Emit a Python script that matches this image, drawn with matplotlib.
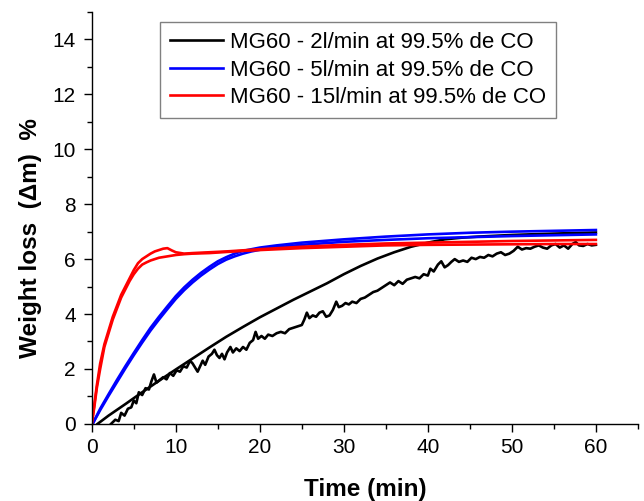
import matplotlib
matplotlib.use("Agg")
import matplotlib.pyplot as plt
from matplotlib.ticker import MultipleLocator

plt.rcParams["font.family"] = ["Liberation Sans", "DejaVu Sans"]

# ── DATA ──
black_smooth_t = [0.7, 2, 4, 6, 8, 10, 12, 14, 16, 18, 20, 22, 24, 26, 28, 30,
                  32, 34, 36, 38, 40, 42, 44, 46, 48, 50, 55, 60]
black_smooth_v = [0.0, 0.3, 0.72, 1.15, 1.57, 1.98, 2.38, 2.78, 3.17, 3.53, 3.88,
                  4.2, 4.52, 4.82, 5.12, 5.45, 5.75, 6.02, 6.25, 6.45, 6.6, 6.72,
                  6.78, 6.82, 6.85, 6.88, 6.93, 6.97]

black_noisy_t = [2.3, 2.8, 3.2, 3.5, 3.9, 4.3, 4.7, 5.0, 5.3, 5.6, 6.0, 6.4, 6.8,
                 7.1, 7.4, 7.7, 8.1, 8.5, 8.9, 9.3, 9.7, 10.1, 10.5, 10.9, 11.3,
                 11.7, 12.0, 12.3, 12.6, 12.9, 13.2, 13.5, 13.9, 14.3, 14.6, 14.9,
                 15.2, 15.5, 15.8, 16.1, 16.5, 16.8, 17.2, 17.6, 18.0, 18.4, 18.8,
                 19.2, 19.5, 19.8, 20.2, 20.6, 21.0, 21.5, 22.0, 22.5, 23.0, 23.5,
                 24.0, 24.5, 25.0, 25.3, 25.6, 25.9, 26.3, 26.7, 27.1, 27.5, 27.9,
                 28.3, 28.7, 29.1, 29.4, 29.8, 30.2, 30.6, 31.0, 31.5, 32.0, 32.5,
                 33.0, 33.5, 34.0, 34.5, 35.0, 35.5, 36.0, 36.5, 37.0, 37.5, 38.0,
                 38.5, 39.0, 39.5, 40.0, 40.3, 40.7, 41.2, 41.6, 42.0, 42.4, 42.8,
                 43.2, 43.7, 44.2, 44.7, 45.2, 45.7, 46.2, 46.7, 47.2, 47.7, 48.2,
                 48.7, 49.2, 49.7, 50.2, 50.7, 51.2, 51.7, 52.2, 52.7, 53.2, 53.7,
                 54.2, 54.7, 55.2, 55.7, 56.2, 56.7, 57.2, 57.6, 58.0, 58.5, 59.0,
                 59.5, 60.0]
black_noisy_v = [0.0, 0.15, 0.1, 0.4, 0.3, 0.55, 0.6, 0.85, 0.75, 1.15, 1.05, 1.3,
                 1.25, 1.55, 1.8, 1.5, 1.6, 1.7, 1.62, 1.85, 1.75, 1.95, 1.9, 2.1,
                 2.05, 2.3, 2.2, 2.05, 1.9, 2.1, 2.3, 2.15, 2.45, 2.55, 2.7, 2.5,
                 2.4, 2.55, 2.35, 2.6, 2.8, 2.6, 2.75, 2.65, 2.8, 2.7, 2.95, 3.05,
                 3.35, 3.1, 3.2, 3.1, 3.25, 3.2, 3.3, 3.35, 3.3, 3.45, 3.5, 3.55,
                 3.6, 3.8, 4.05, 3.85, 3.95, 3.9, 4.05, 4.1, 3.9, 3.95, 4.15, 4.45,
                 4.25, 4.3, 4.4, 4.35, 4.45, 4.4, 4.55, 4.6, 4.7, 4.8, 4.85, 4.95,
                 5.05, 5.15, 5.05, 5.2, 5.1, 5.25, 5.3, 5.35, 5.3, 5.45, 5.4, 5.65,
                 5.55, 5.8, 5.92, 5.7, 5.78, 5.9, 6.0, 5.9, 5.95, 5.9, 6.05, 6.0,
                 6.08, 6.05, 6.15, 6.1, 6.2, 6.25, 6.15, 6.2, 6.3, 6.45, 6.35, 6.4,
                 6.38, 6.45, 6.5, 6.42, 6.38, 6.5, 6.55, 6.42, 6.5, 6.38, 6.55,
                 6.62, 6.5, 6.48, 6.55, 6.5, 6.52]

blue_t = [0.1, 1, 2, 3, 4, 5, 6, 7, 8, 9, 10, 11, 12, 13, 14, 15, 16, 17, 18, 19,
          20, 22, 25, 30, 35, 40, 45, 50, 55, 60]
blue_a_v = [0.0, 0.55, 1.08, 1.6, 2.1, 2.58, 3.05, 3.5, 3.9, 4.28, 4.65, 4.97,
            5.25, 5.5, 5.72, 5.92, 6.07, 6.2, 6.3, 6.36, 6.42, 6.5, 6.6, 6.72,
            6.82, 6.9, 6.96, 7.0, 7.03, 7.06]
blue_b_v = [0.0, 0.5, 1.02, 1.52, 2.02, 2.5, 2.96, 3.4, 3.8, 4.18, 4.55, 4.87,
            5.15, 5.4, 5.62, 5.82, 5.98, 6.1, 6.2, 6.28, 6.34, 6.43, 6.52, 6.63,
            6.7, 6.76, 6.8, 6.84, 6.87, 6.9]

red_a_t = [0, 0.3, 0.6, 1, 1.5, 2, 2.5, 3, 3.5, 4, 4.5, 5, 5.5, 6, 6.5, 7, 7.5,
           8, 8.5, 9, 9.5, 10, 11, 12, 14, 16, 18, 20, 25, 30, 35, 40, 45, 50,
           55, 60]
red_a_v = [0.0, 0.7, 1.4, 2.2, 2.9, 3.4, 3.9, 4.3, 4.7, 5.0, 5.3, 5.6, 5.85, 6.0,
           6.1, 6.2, 6.28, 6.33, 6.38, 6.4, 6.32, 6.25, 6.2, 6.22, 6.25, 6.28,
           6.32, 6.36, 6.45, 6.52, 6.57, 6.6, 6.63, 6.66, 6.68, 6.7]
red_b_t = [0, 0.3, 0.6, 1, 1.5, 2, 2.5, 3, 3.5, 4, 4.5, 5, 5.5, 6, 6.5, 7, 8, 9,
           10, 11, 12, 14, 16, 18, 20, 25, 30, 35, 40, 45, 50, 55, 60]
red_b_v = [0.0, 0.6, 1.3, 2.0, 2.8, 3.3, 3.8, 4.2, 4.6, 4.9, 5.2, 5.45, 5.65,
           5.8, 5.88, 5.95, 6.05, 6.1, 6.15, 6.18, 6.2, 6.22, 6.26, 6.3, 6.33,
           6.4, 6.45, 6.5, 6.52, 6.53, 6.54, 6.55, 6.55]

labels = ["MG60 - 2l/min at 99.5% de CO",
          "MG60 - 5l/min at 99.5% de CO",
          "MG60 - 15l/min at 99.5% de CO"]

fig = plt.figure(figsize=(6.44, 5.01), dpi=100)
ax = fig.add_axes([0.1425, 0.154, 0.848, 0.822])

lw = 1.9
ax.plot(black_smooth_t, black_smooth_v, color="black", lw=lw, label=labels[0])
ax.plot(black_noisy_t, black_noisy_v, color="black", lw=lw)
ax.plot(blue_t, blue_a_v, color="#0000ff", lw=lw, label=labels[1])
ax.plot(blue_t, blue_b_v, color="#0000ff", lw=lw)
ax.plot(red_a_t, red_a_v, color="#ff0000", lw=lw, label=labels[2])
ax.plot(red_b_t, red_b_v, color="#ff0000", lw=lw)

ax.set_xlim(0, 65)
ax.set_ylim(0, 15)
ax.xaxis.set_major_locator(MultipleLocator(10))
ax.xaxis.set_minor_locator(MultipleLocator(5))
ax.yaxis.set_major_locator(MultipleLocator(2))
ax.yaxis.set_minor_locator(MultipleLocator(1))
ax.spines["top"].set_visible(False)
ax.spines["right"].set_visible(False)
for s in ("left", "bottom"):
    ax.spines[s].set_linewidth(1.0)
ax.tick_params(which="major", direction="out", length=6, width=1, labelsize=15)
ax.tick_params(which="minor", direction="out", length=3.5, width=1)
ax.tick_params(axis="y", which="major", pad=5.5)
ax.tick_params(axis="x", which="major", pad=4)

ax.set_xlabel("Time (min)", fontsize=17.5, fontweight="bold", labelpad=15)
ax.set_ylabel("Weight loss  (\u0394m)  %", fontsize=17.5, fontweight="bold")
ax.yaxis.set_label_coords(-0.092, 0.45)

leg = ax.legend(loc="upper left", bbox_to_anchor=(0.125, 0.976), borderaxespad=0,
                fontsize=16, frameon=True, fancybox=False, edgecolor="#808080",
                framealpha=1, handlelength=2.4, handletextpad=0.3,
                labelspacing=0.3, borderpad=0.45)
leg.get_frame().set_linewidth(1.0)

fig.savefig("out.png", dpi=100, facecolor="white")
